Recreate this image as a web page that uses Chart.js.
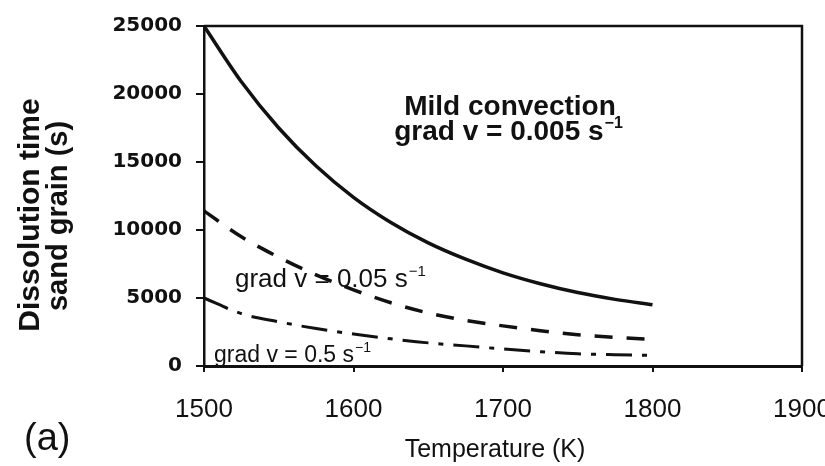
<!DOCTYPE html>
<html><head><meta charset="utf-8">
<script src="https://cdn.jsdelivr.net/npm/chart.js@4"></script>
<style>html,body{margin:0;padding:0;background:#fff}</style>
</head><body>
<canvas id="c" width="825" height="466"></canvas>
<script>
// Temperatures (K)
const temperatures = [1500,1525,1550,1575,1600,1625,1650,1675,1700,1725,1750,1775,1800];
// Dissolution time (s) for each velocity gradient
const gradV0005 = [25000,20900,17500,14700,12400,10550,9050,7850,6850,6050,5400,4900,4500];
const gradV005  = [11400,9500,8000,6700,5600,4650,3900,3350,2950,2600,2300,2100,1950];
const gradV05   = [5000,3850,3250,2750,2350,2000,1700,1480,1250,1050,900,830,780];
const xTickValues = [1500,1600,1700,1800,1900];
const yTickValues = [0,5000,10000,15000,20000,25000];

const ink = '#111';
const toXY = arr => temperatures.map((t,i)=>({x:t,y:arr[i]}));

function supText(ctx, base, sup, x, y, font, supFont, rise, align){
  ctx.font = font; const wb = ctx.measureText(base).width;
  ctx.font = supFont; const ws = ctx.measureText(sup).width;
  let x0 = x;
  if (align === 'center') x0 = x - (wb+ws)/2;
  ctx.textAlign = 'left';
  ctx.font = font; ctx.fillText(base, x0, y);
  ctx.font = supFont; ctx.fillText(sup, x0+wb+1, y-rise);
}

const decor = {
  id:'decor',
  afterDraw(chart){
    const ctx = chart.ctx, a = chart.chartArea;
    ctx.save();
    ctx.strokeStyle = ink; ctx.lineWidth = 2.5;
    ctx.beginPath();
    ctx.moveTo(a.left, a.top); ctx.lineTo(a.right, a.top); ctx.lineTo(a.right, a.bottom);
    ctx.stroke();
    ctx.fillStyle = ink; ctx.textBaseline = 'alphabetic';
    // main annotation
    ctx.textAlign = 'center';
    ctx.font = 'bold 28px "Liberation Sans", Arial, sans-serif';
    ctx.fillText('Mild convection', 510, 115);
    supText(ctx, 'grad v = 0.005 s', '\u22121', 508, 140,
      'bold 28px "Liberation Sans", Arial, sans-serif',
      'bold 16px "Liberation Sans", Arial, sans-serif', 12, 'center');
    // curve labels
    supText(ctx, 'grad v = 0.05 s', '\u22121', 235, 287,
      '26px "Liberation Sans", Arial, sans-serif',
      '15px "Liberation Sans", Arial, sans-serif', 11, 'left');
    supText(ctx, 'grad v = 0.5 s', '\u22121', 214, 362,
      '23px "Liberation Sans", Arial, sans-serif',
      '14px "Liberation Sans", Arial, sans-serif', 10, 'left');
    // y title (two lines, rotated)
    ctx.font = 'bold 30px "Liberation Sans", Arial, sans-serif';
    ctx.textAlign = 'center';
    ctx.save(); ctx.translate(39, 215); ctx.rotate(-Math.PI/2);
    ctx.fillText('Dissolution time', 0, 0); ctx.restore();
    ctx.font = 'bold 29px "Liberation Sans", Arial, sans-serif';
    ctx.save(); ctx.translate(67, 216); ctx.rotate(-Math.PI/2);
    ctx.fillText('sand grain (s)', 0, 0); ctx.restore();
    // x title
    ctx.font = '25px "Liberation Sans", Arial, sans-serif';
    ctx.fillText('Temperature (K)', 495, 457);
    // panel label
    ctx.textAlign = 'left';
    ctx.font = '38px "Liberation Sans", Arial, sans-serif';
    ctx.fillText('(a)', 24, 450);
    ctx.restore();
  }
};

new Chart(document.getElementById('c'), {
  type:'line',
  data:{ datasets:[
    {label:'grad v = 0.005 s-1', data:toXY(gradV0005), borderColor:ink, borderWidth:3.5, pointRadius:0, cubicInterpolationMode:'monotone', fill:false},
    {label:'grad v = 0.05 s-1', data:toXY(gradV005), borderColor:ink, borderWidth:3.5, borderDash:[18,14], pointRadius:0, cubicInterpolationMode:'monotone', fill:false},
    {label:'grad v = 0.5 s-1', data:toXY(gradV05), borderColor:ink, borderWidth:3, borderDash:[26,10,5,10], pointRadius:0, cubicInterpolationMode:'monotone', fill:false}
  ]},
  options:{
    responsive:false, animation:false, devicePixelRatio:1,
    layout:{padding:{left:0, right:23, top:23, bottom:0}},
    plugins:{legend:{display:false}, tooltip:{enabled:false}},
    scales:{
      x:{type:'linear', min:1500, max:1900,
        afterBuildTicks: s => { s.ticks = xTickValues.map(v=>({value:v})); },
        afterFit: s => { s.height = 100; s.paddingLeft = 0; s.paddingRight = 0; },
        grid:{drawOnChartArea:false, drawTicks:true, tickLength:6, color:ink, lineWidth:2},
        border:{display:true, color:ink, width:3},
        ticks:{color:ink, padding:22, maxRotation:0, autoSkip:false, callback:v=>String(v), font:{family:'"Liberation Sans", Arial, sans-serif', size:26}}
      },
      y:{type:'linear', min:0, max:25000,
        afterBuildTicks: s => { s.ticks = yTickValues.map(v=>({value:v})); },
        afterFit: s => { s.width = 204; },
        grid:{drawOnChartArea:false, drawTicks:true, tickLength:8, color:ink, lineWidth:2},
        border:{display:true, color:ink, width:2.5},
        ticks:{color:ink, padding:14, autoSkip:false, callback:v=>String(v), font:{family:'"DejaVu Sans", sans-serif', size:20, weight:'bold'}}
      }
    }
  },
  plugins:[decor]
});
</script>
</body></html>
